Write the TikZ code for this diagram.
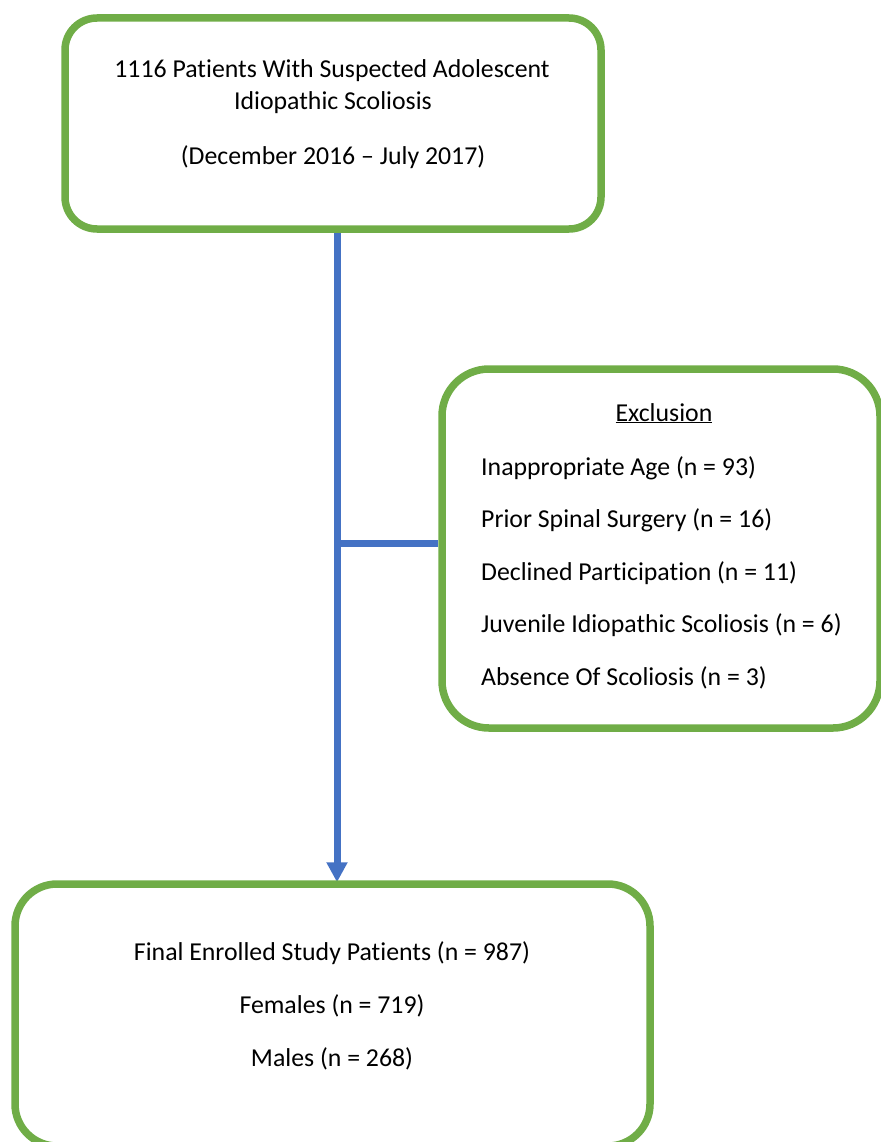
\documentclass[tikz,border=0pt]{standalone}
\usepackage{fontspec}
\setmainfont{Carlito}[Ligatures=NoCommon]
\usepackage{tikz}
\usetikzlibrary{arrows.meta, backgrounds}
\usepackage{xcolor}
\definecolor{boxgreen}{RGB}{112,173,71}
\definecolor{flowblue}{RGB}{68,114,196}
\tikzset{
    caixa/.style={draw=boxgreen, line width=7.5pt, rectangle, inner sep=0pt},
    fluxo/.style={draw=flowblue, line width=7pt},
    texto/.style={font=\fontsize{25.8}{30}\selectfont, inner sep=0pt, anchor=base}
}

\begin{document}
\begin{tikzpicture}[x=1pt, y=-1pt]
    \useasboundingbox (0,0) rectangle (880,1142);

    % Caixas
    \node[caixa, rounded corners=32pt, minimum width=536pt, minimum height=211pt] (start) at (333,123.5) {};
    \node[caixa, rounded corners=47pt, minimum width=438pt, minimum height=359pt] (excl) at (661,548.5) {};
    \node[caixa, rounded corners=42pt, minimum width=635pt, minimum height=262pt] (final) at (332.5,1015) {};

    % Textos da caixa superior
    \node[texto] (start1) at (332,78) {1116 Patients With Suspected Adolescent};
    \node[texto] (start2) at (333,110) {Idiopathic Scoliosis};
    \node[texto] (start3) at (333,165) {(December 2016 – July 2017)};

    % Exclusoes
    \node[texto] (exctitle) at (664,421) {\underline{Exclusion}};
    \node[texto, anchor=base west] (exc1) at (481,475) {Inappropriate Age (n = 93)};
    \node[texto, anchor=base west] (exc2) at (481,527) {Prior Spinal Surgery (n = 16)};
    \node[texto, anchor=base west] (exc3) at (481,580) {Declined Participation (n = 11)};
    \node[texto, anchor=base west] (exc4) at (481,632) {Juvenile Idiopathic Scoliosis (n = 6)};
    \node[texto, anchor=base west] (exc5) at (481,685) {Absence Of Scoliosis (n = 3)};

    % Textos da caixa final
    \node[texto] (final1) at (332,960) {Final Enrolled Study Patients (n = 987)};
    \node[texto] (final2) at (332,1013) {Females (n = 719)};
    \node[texto] (final3) at (332,1066) {Males (n = 268)};

    % Linhas de fluxo
    \coordinate (junction) at (337,543);
    \begin{scope}[on background layer]
        \draw[fluxo] (start.south -| junction) -- (junction);
        \draw[fluxo] (junction) -- (junction -| excl.west);
        \draw[fluxo, -{Triangle[length=20pt, width=20pt]}] (junction) -- ([yshift=-2pt]junction |- final.north);
    \end{scope}
\end{tikzpicture}
\end{document}
